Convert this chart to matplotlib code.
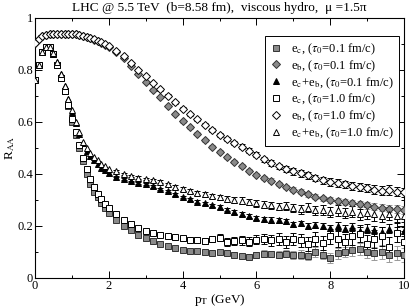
import matplotlib
matplotlib.use("Agg")
import matplotlib.pyplot as plt
from matplotlib.ticker import MultipleLocator

plt.rcParams['font.family'] = ['Liberation Serif', 'DejaVu Serif']
plt.rcParams['mathtext.fontset'] = 'stix'

# Data
# ======================================
pt = [0.0, 0.1, 0.2, 0.3, 0.4, 0.5, 0.6, 0.7, 0.8, 0.9, 1.0, 1.1, 1.2, 1.3, 1.4,
      1.5, 1.6, 1.7, 1.8, 1.9, 2.0,
      2.2, 2.4, 2.6, 2.8, 3.0, 3.2, 3.4, 3.6, 3.8, 4.0, 4.2, 4.4, 4.6, 4.8, 5.0,
      5.2, 5.4, 5.6, 5.8, 6.0, 6.2, 6.4, 6.6, 6.8, 7.0, 7.2, 7.4, 7.6, 7.8, 8.0,
      8.2, 8.4, 8.6, 8.8, 9.0, 9.2, 9.4, 9.6, 9.8, 10.0]
N_LOW = 21  # points below 2.2 GeV carry no visible error bar

ec_01 = [0.76, 0.82, 0.87, 0.89, 0.89, 0.86, 0.82, 0.77, 0.72, 0.66, 0.60, 0.55, 0.50, 0.45, 0.40,
         0.36, 0.33, 0.31, 0.29, 0.27, 0.25,
         0.225, 0.20, 0.183, 0.167, 0.153, 0.142, 0.132, 0.124, 0.116, 0.109, 0.105, 0.102, 0.100, 0.098, 0.100,
         0.096, 0.090, 0.083, 0.082, 0.088, 0.094, 0.092, 0.090, 0.094, 0.087, 0.090, 0.085, 0.100, 0.090, 0.078,
         0.095, 0.100, 0.106, 0.112, 0.100, 0.095, 0.100, 0.090, 0.096, 0.088]
eb_01 = [0.905, 0.92, 0.93, 0.935, 0.938, 0.94, 0.94, 0.94, 0.94, 0.939, 0.938, 0.937, 0.935, 0.932, 0.928,
         0.922, 0.916, 0.91, 0.905, 0.898, 0.89,
         0.87, 0.845, 0.815, 0.785, 0.755, 0.725, 0.695, 0.662, 0.632, 0.603, 0.58, 0.555, 0.53, 0.505, 0.485,
         0.465, 0.447, 0.43, 0.413, 0.398, 0.386, 0.375, 0.362, 0.35, 0.34, 0.332, 0.322, 0.313, 0.306, 0.30,
         0.295, 0.291, 0.288, 0.285, 0.279, 0.275, 0.270, 0.266, 0.265, 0.262]
ecb_01 = [0.76, 0.82, 0.87, 0.89, 0.89, 0.865, 0.83, 0.785, 0.74, 0.69, 0.64, 0.595, 0.555, 0.52, 0.49,
          0.47, 0.455, 0.44, 0.425, 0.415, 0.405,
          0.39, 0.38, 0.372, 0.366, 0.36, 0.352, 0.344, 0.333, 0.322, 0.312, 0.303, 0.293, 0.287, 0.279, 0.272,
          0.263, 0.255, 0.246, 0.237, 0.231, 0.226, 0.223, 0.222, 0.218, 0.206, 0.210, 0.200, 0.205, 0.200, 0.192,
          0.200, 0.190, 0.195, 0.181, 0.190, 0.185, 0.178, 0.190, 0.178, 0.180]
ec_10 = [0.76, 0.82, 0.87, 0.89, 0.89, 0.86, 0.82, 0.77, 0.72, 0.665, 0.61, 0.56, 0.51, 0.46, 0.42,
         0.38, 0.35, 0.325, 0.305, 0.285, 0.27,
         0.245, 0.225, 0.208, 0.193, 0.182, 0.174, 0.167, 0.161, 0.156, 0.152, 0.148, 0.146, 0.142, 0.150, 0.155,
         0.138, 0.142, 0.145, 0.140, 0.148, 0.150, 0.145, 0.150, 0.140, 0.150, 0.145, 0.130, 0.150, 0.135, 0.160,
         0.150, 0.140, 0.160, 0.170, 0.130, 0.150, 0.160, 0.120, 0.175, 0.140]
eb_10 = [0.905, 0.92, 0.93, 0.935, 0.938, 0.94, 0.94, 0.94, 0.94, 0.939, 0.938, 0.937, 0.935, 0.932, 0.928,
         0.923, 0.918, 0.912, 0.907, 0.9, 0.893,
         0.875, 0.852, 0.827, 0.801, 0.776, 0.751, 0.726, 0.701, 0.676, 0.651, 0.63, 0.61, 0.59, 0.57, 0.55,
         0.535, 0.52, 0.505, 0.49, 0.474, 0.456, 0.441, 0.429, 0.419, 0.41, 0.402, 0.395, 0.385, 0.376, 0.369,
         0.365, 0.36, 0.355, 0.350, 0.345, 0.340, 0.335, 0.338, 0.332, 0.330]
ecb_10 = [0.76, 0.82, 0.87, 0.89, 0.89, 0.865, 0.83, 0.785, 0.74, 0.69, 0.645, 0.60, 0.56, 0.525, 0.50,
          0.48, 0.465, 0.452, 0.44, 0.43, 0.42,
          0.41, 0.40, 0.392, 0.386, 0.381, 0.376, 0.37, 0.361, 0.351, 0.342, 0.335, 0.328, 0.322, 0.316, 0.31,
          0.305, 0.300, 0.298, 0.292, 0.288, 0.282, 0.280, 0.275, 0.278, 0.270, 0.265, 0.270, 0.260, 0.262, 0.255,
          0.260, 0.250, 0.255, 0.245, 0.250, 0.245, 0.240, 0.248, 0.240, 0.240]

# error bars, only for pT >= 2.2 GeV
err_ec_01 = [0.003, 0.003, 0.003, 0.004, 0.004, 0.004, 0.005, 0.005, 0.005, 0.006, 0.006, 0.006, 0.007, 0.008, 0.008,
             0.009, 0.009, 0.010, 0.010, 0.011, 0.012, 0.012, 0.013, 0.014, 0.015, 0.016, 0.017, 0.018, 0.018, 0.019,
             0.020, 0.021, 0.022, 0.023, 0.024, 0.025, 0.026, 0.027, 0.028, 0.028]
err_eb_01 = [0.003, 0.003, 0.003, 0.003, 0.003, 0.004, 0.004, 0.004, 0.004, 0.005, 0.005, 0.005, 0.005, 0.006, 0.006,
             0.006, 0.006, 0.007, 0.007, 0.007, 0.008, 0.008, 0.008, 0.009, 0.009, 0.009, 0.010, 0.010, 0.010, 0.011,
             0.011, 0.011, 0.012, 0.012, 0.012, 0.013, 0.013, 0.013, 0.014, 0.014]
err_ecb_01 = [0.003, 0.003, 0.003, 0.003, 0.004, 0.004, 0.004, 0.004, 0.005, 0.005, 0.005, 0.006, 0.006, 0.006, 0.007,
              0.007, 0.007, 0.008, 0.008, 0.009, 0.009, 0.010, 0.010, 0.010, 0.011, 0.011, 0.012, 0.012, 0.013, 0.013,
              0.014, 0.014, 0.015, 0.015, 0.016, 0.016, 0.017, 0.017, 0.018, 0.018]
err_ec_10 = [0.004, 0.004, 0.005, 0.005, 0.006, 0.006, 0.007, 0.007, 0.008, 0.009, 0.010, 0.011, 0.012, 0.013, 0.014,
             0.015, 0.016, 0.017, 0.018, 0.019, 0.020, 0.021, 0.022, 0.023, 0.024, 0.025, 0.026, 0.027, 0.028, 0.029,
             0.030, 0.031, 0.032, 0.033, 0.034, 0.035, 0.036, 0.037, 0.038, 0.040]
err_eb_10 = [0.003, 0.003, 0.003, 0.004, 0.004, 0.004, 0.005, 0.005, 0.005, 0.006, 0.006, 0.006, 0.007, 0.007, 0.008,
             0.008, 0.008, 0.009, 0.009, 0.010, 0.010, 0.011, 0.011, 0.012, 0.012, 0.012, 0.013, 0.013, 0.014, 0.014,
             0.015, 0.015, 0.016, 0.016, 0.016, 0.017, 0.017, 0.018, 0.018, 0.018]
err_ecb_10 = [0.004, 0.004, 0.004, 0.005, 0.005, 0.005, 0.006, 0.006, 0.007, 0.007, 0.008, 0.008, 0.009, 0.009, 0.010,
              0.011, 0.011, 0.012, 0.012, 0.013, 0.014, 0.014, 0.015, 0.016, 0.016, 0.017, 0.018, 0.018, 0.019, 0.020,
              0.020, 0.021, 0.022, 0.022, 0.023, 0.024, 0.024, 0.025, 0.026, 0.026]

labels = [r'e$_{\rm c}$, ($\tau_0$=0.1 fm/c)',
          r'e$_{\rm b}$, ($\tau_0$=0.1 fm/c)',
          r'e$_{\rm c}$+e$_{\rm b}$, ($\tau_0$=0.1 fm/c)',
          r'e$_{\rm c}$, ($\tau_0$=1.0 fm/c)',
          r'e$_{\rm b}$, ($\tau_0$=1.0 fm/c)',
          r'e$_{\rm c}$+e$_{\rm b}$, ($\tau_0$=1.0 fm/c)']

# Plot
# =====
GRAY = '#8a8a8a'
series = [
    (ec_01, err_ec_01, 's', GRAY, '#333333', '#999999', 4.6),
    (eb_01, err_eb_01, 'D', GRAY, '#333333', '#999999', 4.0),
    (ecb_01, err_ecb_01, '^', 'black', 'black', 'black', 4.8),
    (ec_10, err_ec_10, 's', 'white', 'black', 'black', 4.6),
    (eb_10, err_eb_10, 'D', 'white', 'black', 'black', 4.0),
    (ecb_10, err_ecb_10, '^', 'white', 'black', 'black', 4.8),
]

fig = plt.figure(figsize=(4.11, 3.08), dpi=100)
ax = fig.add_axes([35 / 411, 30 / 308, 369 / 411, 260 / 308])

for (vals, errs, mk, fc, ec, errc, ms), lab in zip(series, labels):
    ax.errorbar(pt[N_LOW:], vals[N_LOW:], yerr=errs, fmt='none', ecolor=errc,
                elinewidth=0.7, capsize=2, capthick=0.7, zorder=2)
    ax.plot(pt, vals, linestyle='none', marker=mk, markersize=ms,
            markerfacecolor=fc, markeredgecolor=ec, markeredgewidth=0.7,
            label=lab, zorder=3)

ax.set_xlim(0, 10)
ax.set_ylim(0, 1)
ax.xaxis.set_major_locator(MultipleLocator(2))
ax.xaxis.set_minor_locator(MultipleLocator(1))
ax.yaxis.set_major_locator(MultipleLocator(0.2))
ax.yaxis.set_minor_locator(MultipleLocator(0.1))
ax.xaxis.set_major_formatter(plt.FuncFormatter(lambda v, p: f'{v:g}'))
ax.yaxis.set_major_formatter(plt.FuncFormatter(lambda v, p: f'{v:g}'))
ax.tick_params(which='both', direction='in', top=True, right=True,
               labelsize=9, width=0.7, pad=1.5)
ax.tick_params(which='major', length=5)
ax.tick_params(which='minor', length=2.5)
for s in ax.spines.values():
    s.set_linewidth(0.8)

ax.set_xlabel(r'p$_{\rm T}$ (GeV)', fontsize=9.5, labelpad=0)
ax.set_ylabel(r'R$_{\rm AA}$', fontsize=9.5, labelpad=0)
ax.set_title('LHC @ 5.5 TeV  (b=8.58 fm),  viscous hydro,  μ =1.5π',
             fontsize=9.5, pad=5)

leg = ax.legend(loc='upper right', bbox_to_anchor=(0.987, 0.93), fontsize=9,
                numpoints=1, handlelength=1.0, handletextpad=0.7,
                labelspacing=0.12, borderpad=0.4, fancybox=False,
                framealpha=1, edgecolor='black', borderaxespad=0)
leg.get_frame().set_linewidth(0.7)

fig.savefig('out.png', dpi=100)
